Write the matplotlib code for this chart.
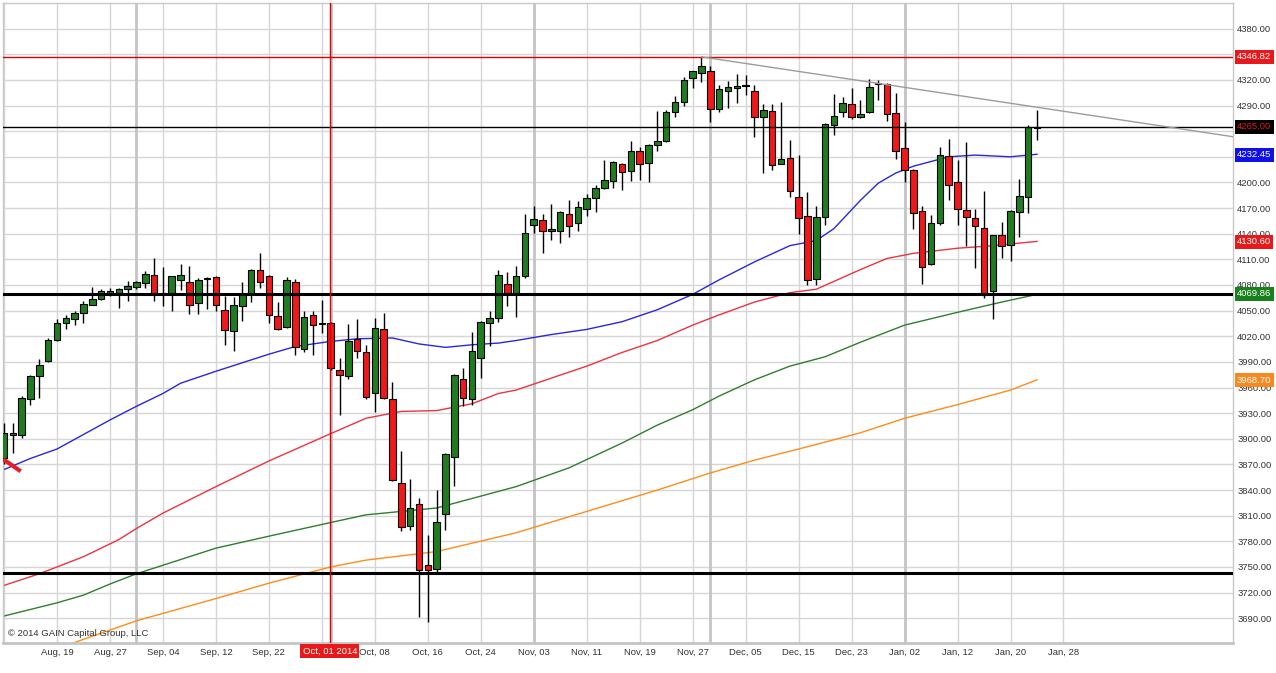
import matplotlib
matplotlib.use("Agg")
import matplotlib.pyplot as plt
import numpy as np
import pandas as pd

plt.rcParams['font.family'] = ['Liberation Sans', 'DejaVu Sans']

# ---------------- data ----------------
opens = [3877, 3905, 3905, 3946, 3974, 3991, 4016, 4036, 4040, 4047,
         4057, 4064, 4071, 4071, 4075, 4078, 4082, 4092, 4070, 4071,
         4086, 4083, 4059, 4087, 4089, 4051, 4026, 4055, 4070, 4098,
         4091, 4044, 4031, 4084, 4005, 4045, 4034, 4036, 3981, 3974,
         4017, 4001, 3953, 4028, 3947, 3848, 3798, 3824, 3752, 3748,
         3812, 3879, 3970, 3946, 3995, 4035, 4041, 4081, 4071, 4090,
         4150, 4156, 4143, 4143, 4163, 4152, 4169, 4182, 4193, 4202,
         4222, 4213, 4237, 4223, 4244, 4249, 4282, 4294, 4322, 4328,
         4330, 4286, 4307, 4311, 4313, 4307, 4277, 4284, 4222, 4229,
         4183, 4161, 4087, 4159, 4267, 4282, 4292, 4277, 4282, 4315,
         4315, 4281, 4240, 4215, 4166, 4105, 4152, 4231, 4201, 4168,
         4158, 4147, 4073, 4138, 4127, 4165, 4183, 4264]
highs = [3918, 3918, 3950, 3975, 3993, 4018, 4040, 4045, 4050, 4061,
         4078, 4075, 4077, 4077, 4085, 4085, 4096, 4112, 4101, 4091,
         4105, 4102, 4088, 4089, 4090, 4067, 4066, 4083, 4099, 4118,
         4092, 4060, 4089, 4087, 4050, 4050, 4063, 4037, 3994, 4034,
         4040, 4010, 4041, 4047, 3966, 3886, 3853, 3831, 3787, 3840,
         3883, 3976, 3983, 4025, 4038, 4049, 4098, 4095, 4102, 4163,
         4173, 4163, 4175, 4166, 4179, 4178, 4186, 4197, 4226, 4225,
         4223, 4248, 4242, 4245, 4284, 4285, 4301, 4323, 4331, 4347,
         4336, 4314, 4319, 4327, 4326, 4314, 4292, 4292, 4294, 4250,
         4232, 4189, 4172, 4270, 4304, 4300, 4311, 4297, 4321, 4320,
         4316, 4305, 4271, 4216, 4172, 4162, 4242, 4251, 4226, 4247,
         4169, 4190, 4139, 4154, 4168, 4204, 4267, 4285]
lows = [3870, 3883, 3901, 3939, 3948, 3990, 4014, 4028, 4033, 4036,
        4056, 4062, 4067, 4053, 4061, 4075, 4077, 4061, 4055, 4050,
        4074, 4046, 4046, 4052, 4049, 4010, 4003, 4038, 4060, 4076,
        4036, 4027, 4030, 3998, 4001, 3998, 4024, 3981, 3928, 3970,
        3995, 3947, 3931, 3946, 3851, 3792, 3793, 3692, 3685, 3743,
        3793, 3845, 3938, 3940, 3971, 4008, 4037, 4055, 4043, 4088,
        4141, 4118, 4133, 4129, 4136, 4143, 4161, 4165, 4192, 4194,
        4191, 4202, 4203, 4200, 4237, 4247, 4277, 4289, 4311, 4317,
        4271, 4283, 4287, 4293, 4302, 4253, 4211, 4214, 4221, 4183,
        4140, 4080, 4080, 4150, 4255, 4276, 4274, 4275, 4281, 4297,
        4272, 4227, 4200, 4145, 4081, 4103, 4150, 4180, 4150, 4126,
        4100, 4065, 4040, 4112, 4108, 4136, 4164, 4250]
closes = [3907, 3907, 3948, 3973, 3986, 4016, 4036, 4041, 4047, 4058,
          4064, 4073, 4073, 4075, 4079, 4083, 4093, 4070, 4071, 4090,
          4092, 4057, 4086, 4088, 4057, 4027, 4057, 4070, 4098, 4084,
          4045, 4029, 4086, 4007, 4043, 4033, 4035, 3983, 3975, 4015,
          4003, 3949, 4030, 3948, 3852, 3797, 3819, 3747, 3747, 3803,
          3882, 3975, 3948, 4003, 4037, 4041, 4092, 4071, 4091, 4141,
          4157, 4143, 4145, 4165, 4149, 4171, 4182, 4193, 4203, 4224,
          4212, 4237, 4221, 4244, 4249, 4282, 4294, 4320, 4330, 4336,
          4286, 4309, 4312, 4313, 4314, 4276, 4285, 4220, 4228, 4190,
          4158, 4086, 4160, 4268, 4278, 4293, 4277, 4280, 4312, 4316,
          4280, 4237, 4214, 4164, 4101, 4152, 4232, 4197, 4169, 4159,
          4149, 4068, 4138, 4126, 4167, 4184, 4265, 4265]

# moving averages sampled at candle indices
ma20_idx = [-1, 0, 3, 6, 9, 12, 15, 18, 20, 24, 30, 33, 37, 40, 44, 47, 50, 53, 56, 58,
            62, 66, 70, 74, 78, 81, 85, 89, 92, 94, 96, 97, 99, 101, 103, 107, 110, 114, 117]
ma20_val = [3860, 3864, 3877, 3888, 3905, 3922, 3938, 3953, 3965, 3979, 3999, 4008, 4014,
            4017, 4018, 4011, 4007, 4010, 4012, 4015, 4022, 4028, 4037, 4051, 4069, 4086,
            4107, 4126, 4132, 4146, 4168, 4179, 4199, 4211, 4219, 4230, 4232, 4230, 4233]
ma50_idx = [-1, 4, 9, 13, 15, 18, 24, 30, 37, 41, 45, 49, 53, 56, 58, 62, 66, 70, 74, 78,
            81, 85, 89, 92, 97, 100, 103, 108, 112, 117]
ma50_val = [3725, 3742, 3762, 3782, 3795, 3813, 3844, 3874, 3906, 3924, 3932, 3933, 3941,
            3953, 3957, 3971, 3985, 4001, 4015, 4033, 4045, 4060, 4071, 4075, 4098, 4111,
            4117, 4123, 4126, 4131]
ma100_idx = [-1, 6, 9, 12, 15, 18, 24, 30, 37, 41, 49, 58, 64, 70, 74, 78, 81, 85, 89, 93,
             97, 102, 108, 113, 117]
ma100_val = [3690, 3708, 3717, 3730, 3742, 3752, 3772, 3786, 3802, 3811, 3819, 3844, 3866,
             3895, 3916, 3934, 3950, 3969, 3985, 3996, 4013, 4033, 4048, 4060, 4069]
ma200_idx = [7, 15, 24, 30, 37, 41, 49, 58, 66, 74, 80, 85, 90, 97, 102, 108, 114, 117]
ma200_val = [3658, 3687, 3713, 3731, 3750, 3758, 3768, 3790, 3815, 3840, 3860, 3875, 3888,
             3907, 3924, 3940, 3957, 3969]

# price levels / drawings
resistance_level = 4346.82
last_level = 4265.00
support_levels = [4069.3, 3743]
trend_x = [79, 139.2]
trend_y = [4347, 4253.5]
red_seg_x = [-0.08, 1.89]
red_seg_y = [3876, 3862]
cross_idx = 36.9
cross_label = "Oct, 01 2014"

box_vals = [4346.82, 4265.00, 4232.45, 4130.60, 4069.86, 3968.70]
box_fc = ['#e8191b', '#000000', '#1010e8', '#e8191b', '#18801c', '#f7891f']
box_tc = ['white', '#e8191b', 'white', 'white', 'white', 'white']

y_ticks = list(range(3690, 4381, 30))
hidden_ticks = [4350, 4260, 4230]   # fully covered by the price boxes
copyright_text = "\u00a9 2014 GAIN Capital Group, LLC"

# trading days (weekdays without Christmas / New Year)
days = pd.bdate_range("2014-08-11", "2015-02-27")
days = days[~days.isin(pd.to_datetime(["2014-12-25", "2015-01-01"]))]
n = len(closes)

# ---------------- figure ----------------
W, H = 1276, 673
fig = plt.figure(figsize=(W / 100, H / 100), dpi=100)
fig.patch.set_facecolor('white')
ax = fig.add_axes([3 / W, 30 / H, 1230 / W, 640 / H])
ax.set_xlim(-0.113, 139.2)
ax.set_ylim(3661, 4410)

grid_c = '#d6d6d6'
for v in y_ticks:
    ax.axhline(v, color=grid_c, lw=1, zorder=0)
label_idx = list(range(0, 121, 6))
for i in label_idx:
    ax.axvline(i, color=grid_c, lw=1, zorder=0)
month_starts = [i for i in range(1, 121) if days[i].month != days[i - 1].month]
for i in month_starts:
    ax.axvline(i, color='#c4c4c4', lw=2, zorder=0)

# moving averages
ax.plot(ma200_idx, ma200_val, color='#ff8c1a', lw=1, zorder=2)
ax.plot(ma100_idx, ma100_val, color='#2f7f2f', lw=1, zorder=2)
ax.plot(ma50_idx, ma50_val, color='#ee3340', lw=1, zorder=2)
ax.plot(ma20_idx, ma20_val, color='#2828dd', lw=1, zorder=2)

# candles
x = np.arange(n)
o = np.array(opens, float)
h = np.array(highs, float)
l = np.array(lows, float)
c = np.array(closes, float)
up = c >= o
ax.vlines(x, l, h, color='black', lw=1, zorder=3)
body_bottom = np.minimum(o, c)
body_h = np.maximum(np.abs(c - o), 0.8)
colors = np.where(up, '#1f7d1f', '#f01818')
ax.bar(x, body_h, bottom=body_bottom, width=0.74, color=colors,
       edgecolor='black', linewidth=0.8, zorder=4)

# horizontal levels and drawings
ax.axhline(resistance_level, color='#e00000', lw=1, zorder=5)
ax.axhline(last_level, color='black', lw=1, zorder=5)
for v in support_levels:
    ax.axhline(v, color='black', lw=2.2, zorder=5)
ax.plot(trend_x, trend_y, color='#9c9c9c', lw=1, zorder=5)
ax.plot(red_seg_x, red_seg_y, color='#e8201c', lw=3, solid_capstyle='butt', zorder=6)
ax.axvline(cross_idx, color='#e00000', lw=1, zorder=6)

# spines
for s in ax.spines.values():
    s.set_color('#c8c8c8')
    s.set_linewidth(1)
ax.spines['bottom'].set_linewidth(2)
ax.spines['bottom'].set_color('#c4c4c4')

# right y axis labels
ax.yaxis.tick_right()
ax.set_yticks(y_ticks)
ax.set_yticklabels(["" if v in hidden_ticks else f"{v:.2f}" for v in y_ticks])
ax.tick_params(axis='y', length=0, pad=3, labelsize=6.8, labelcolor='#333333')

# x axis labels
shown = [i for i in label_idx if i >= 6 and abs(i - cross_idx) > 2]
ax.set_xticks(shown)
ax.set_xticklabels([days[i].strftime("%b, %d") for i in shown])
ax.tick_params(axis='x', length=0, pad=3.5, labelsize=6.8, labelcolor='#333333')

# colored price boxes on the right axis
for v, fc, tc in zip(box_vals, box_fc, box_tc):
    ax.text(1.0 + 4 / 1230, v, f"{v:.2f}", transform=ax.get_yaxis_transform(),
            ha='left', va='center', fontsize=6.8, color=tc, clip_on=False, zorder=20,
            bbox=dict(boxstyle='square,pad=0.25', fc=fc, ec='none'))

# crosshair date label
ax.text(cross_idx, -0.0125, cross_label, transform=ax.get_xaxis_transform(),
        ha='center', va='center', fontsize=6.8, color='white', clip_on=False, zorder=20,
        bbox=dict(boxstyle='square,pad=0.25', fc='#e8191b', ec='none'))

fig.text(8 / W, 1 - 634 / H, copyright_text, ha='left', va='center',
         fontsize=6.8, color='#333333')

fig.savefig("out.png", dpi=100, facecolor='white')
